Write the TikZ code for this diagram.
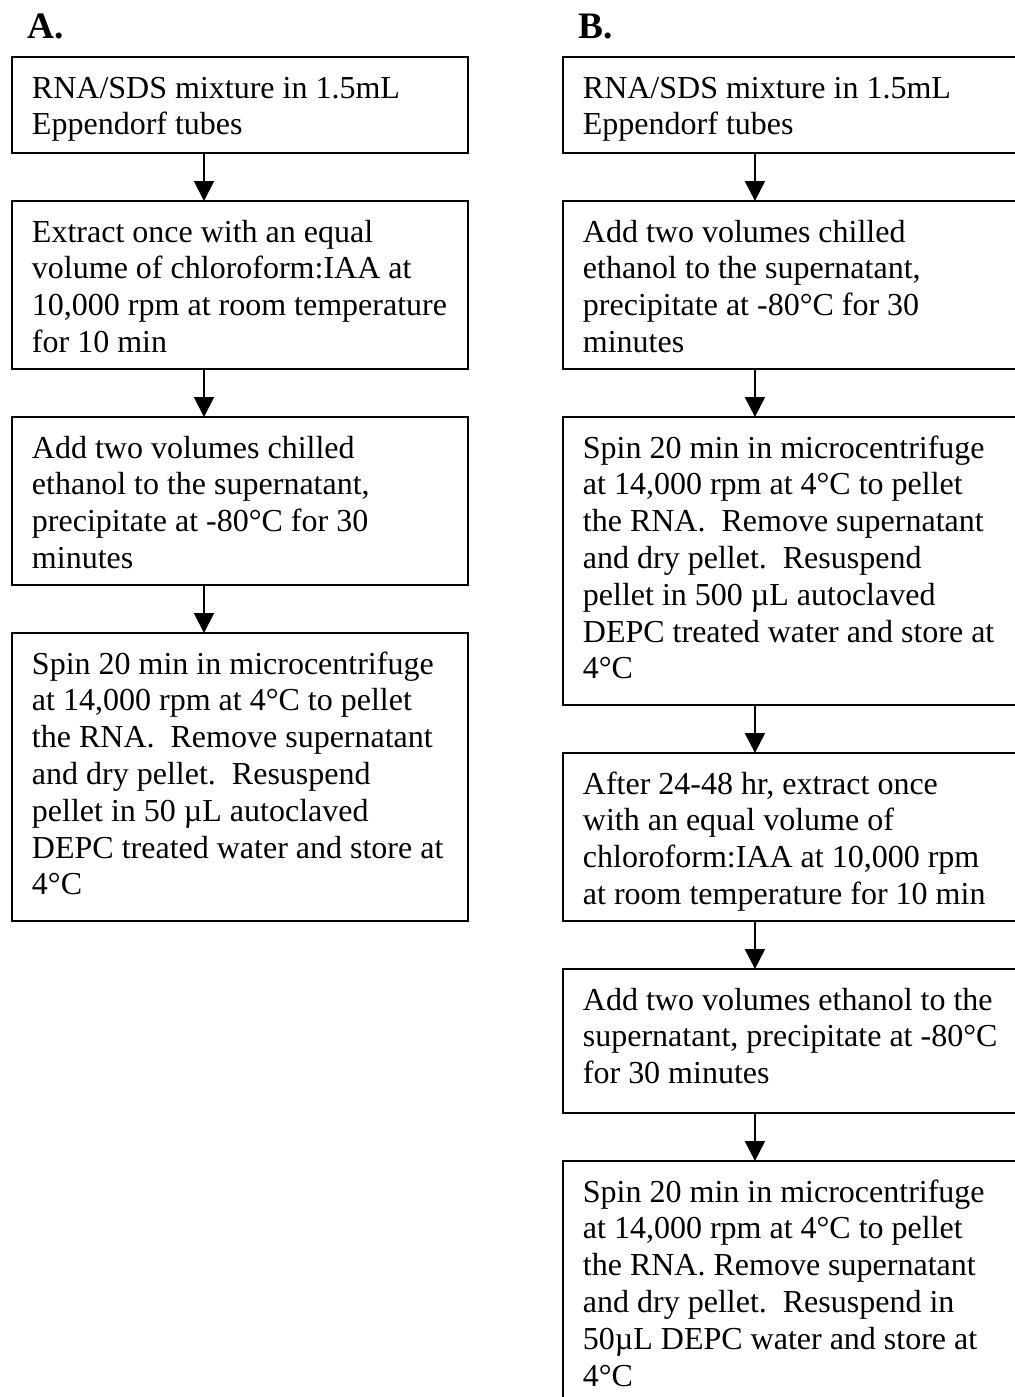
\documentclass[tikz,border=0pt]{standalone}
\usepackage{fontspec}
\setmainfont{Liberation Serif}
\usetikzlibrary{arrows.meta,positioning}

% fixed-height box body, text starts at the top
\newcommand{\boxtext}[2]{\parbox[c][#1][t]{156pt}{\raggedright\rule{0pt}{15.4pt}#2}}

\begin{document}
\begin{tikzpicture}[font=\fontsize{12pt}{13.8pt}\selectfont,
  stepbox/.style={draw, line width=0.75pt, inner xsep=7.5pt, inner ysep=0pt, outer sep=0pt},
  flow/.style={-{Triangle[width=7.5pt,length=7.5pt]}, line width=0.75pt},
  panel/.style={anchor=base west, inner sep=0pt, font=\fontsize{14pt}{16pt}\selectfont\bfseries}]
\useasboundingbox (0,0) rectangle (380.625pt,-523.875pt);

% column A
\node[stepbox, anchor=north west] (a1) at (4.5pt,-21.375pt) {\boxtext{36pt}{RNA/SDS mixture in 1.5mL\\Eppendorf tubes}};
\node[stepbox, below=18pt of a1] (a2) {\boxtext{63pt}{Extract once with an equal\\volume of chloroform:IAA at\\10,000 rpm at room temperature\\for 10 min}};
\node[stepbox, below=18pt of a2] (a3) {\boxtext{63pt}{Add two volumes chilled\\ethanol to the supernatant,\\precipitate at -80°C for 30\\minutes}};
\node[stepbox, below=18pt of a3] (a4) {\boxtext{108pt}{Spin 20 min in microcentrifuge\\at 14,000 rpm at 4°C to pellet\\the RNA.\ \ Remove supernatant\\and dry pellet.\ \ Resuspend\\pellet in 50 µL autoclaved\\DEPC treated water and store at\\4°C}};
\node[panel] (labA) at ([xshift=5.6pt,yshift=7.1pt]a1.north west) {A.};

% column B
\node[stepbox, right=35.6pt of a1] (b1) {\boxtext{36pt}{RNA/SDS mixture in 1.5mL\\Eppendorf tubes}};
\node[stepbox, below=18pt of b1] (b2) {\boxtext{63pt}{Add two volumes chilled\\ethanol to the supernatant,\\precipitate at -80°C for 30\\minutes}};
\node[stepbox, below=18pt of b2] (b3) {\boxtext{108pt}{Spin 20 min in microcentrifuge\\at 14,000 rpm at 4°C to pellet\\the RNA.\ \ Remove supernatant\\and dry pellet.\ \ Resuspend\\pellet in 500 µL autoclaved\\DEPC treated water and store at\\4°C}};
\node[stepbox, below=18pt of b3] (b4) {\boxtext{63pt}{After 24-48 hr, extract once\\with an equal volume of\\chloroform:IAA at 10,000 rpm\\at room temperature for 10 min}};
\node[stepbox, below=18pt of b4] (b5) {\boxtext{54pt}{Add two volumes ethanol to the\\supernatant, precipitate at -80°C\\for 30 minutes}};
\node[stepbox, below=18pt of b5] (b6) {\boxtext{108pt}{Spin 20 min in microcentrifuge\\at 14,000 rpm at 4°C to pellet\\the RNA. Remove supernatant\\and dry pellet.\ \ Resuspend in\\50µL DEPC water and store at\\4°C}};
\node[panel] (labB) at ([xshift=5.6pt,yshift=7.1pt]b1.north west) {B.};

% arrows
\draw[flow] ([xshift=72pt]a1.south west) -- ([xshift=72pt]a2.north west);
\draw[flow] ([xshift=72pt]a2.south west) -- ([xshift=72pt]a3.north west);
\draw[flow] ([xshift=72pt]a3.south west) -- ([xshift=72pt]a4.north west);
\draw[flow] ([xshift=72pt]b1.south west) -- ([xshift=72pt]b2.north west);
\draw[flow] ([xshift=72pt]b2.south west) -- ([xshift=72pt]b3.north west);
\draw[flow] ([xshift=72pt]b3.south west) -- ([xshift=72pt]b4.north west);
\draw[flow] ([xshift=72pt]b4.south west) -- ([xshift=72pt]b5.north west);
\draw[flow] ([xshift=72pt]b5.south west) -- ([xshift=72pt]b6.north west);
\end{tikzpicture}
\end{document}
